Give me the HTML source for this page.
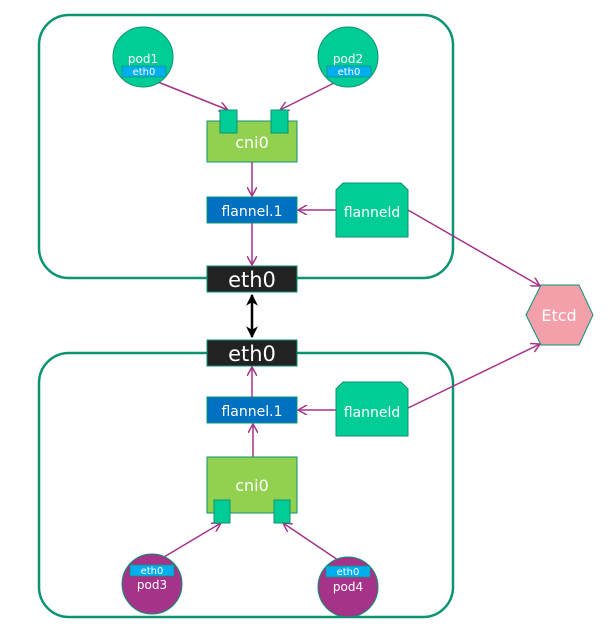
<!DOCTYPE html>
<html><head><style>body{margin:0;background:#fff}</style></head><body>
<svg width="608" height="622" viewBox="0 0 608 622" xmlns="http://www.w3.org/2000/svg" font-family="'DejaVu Sans','Liberation Sans',sans-serif">
<defs>
<marker id="a" viewBox="0 0 10 10" refX="9" refY="5" markerWidth="10" markerHeight="10" markerUnits="userSpaceOnUse" orient="auto"><path d="M0,0 L9,5 L0,10" fill="none" stroke="#a6338a" stroke-width="1.5"/></marker>
<marker id="b" viewBox="0 0 10 10" refX="9" refY="5" markerWidth="12" markerHeight="12" markerUnits="userSpaceOnUse" orient="auto-start-reverse"><path d="M0,0 L10,5 L0,10 L3,5Z" fill="#000"/></marker>
</defs>
<rect x="39" y="15" width="414" height="263" rx="30" fill="none" stroke="#0a9471" stroke-width="2.5"/>
<rect x="39" y="353" width="414" height="264" rx="30" fill="none" stroke="#0a9471" stroke-width="2.5"/>
<g stroke="#a6338a" stroke-width="1.5" fill="none" marker-end="url(#a)">
<line x1="143" y1="76" x2="228" y2="110"/>
<line x1="348" y1="76" x2="280" y2="110"/>
<line x1="252" y1="162" x2="252" y2="196"/>
<line x1="336" y1="210" x2="298" y2="210"/>
<line x1="252" y1="223" x2="252" y2="265"/>
<line x1="408" y1="210" x2="540" y2="286"/>
<line x1="252" y1="397" x2="252" y2="367"/>
<line x1="336" y1="410" x2="298" y2="410"/>
<line x1="253" y1="457" x2="253" y2="424"/>
<line x1="408" y1="408" x2="540" y2="344"/>
<line x1="164" y1="557" x2="221" y2="523"/>
<line x1="338" y1="560" x2="283" y2="523"/>
</g>
<line x1="252" y1="295" x2="252" y2="337" stroke="#000" stroke-width="2.5" marker-start="url(#b)" marker-end="url(#b)"/>
<!-- top -->
<circle cx="143" cy="57" r="30" fill="#00cc95" stroke="#0a9471"/>
<text x="143" y="63" fill="#fff" font-size="12" text-anchor="middle">pod1</text>
<rect x="122" y="66" width="44" height="11" fill="#00aeef" stroke="#0a9471" stroke-width="0.7"/>
<text x="144" y="75" fill="#fff" font-size="10" text-anchor="middle">eth0</text>
<circle cx="348" cy="57" r="30" fill="#00cc95" stroke="#0a9471"/>
<text x="348" y="63" fill="#fff" font-size="12" text-anchor="middle">pod2</text>
<rect x="327" y="66" width="44" height="11" fill="#00aeef" stroke="#0a9471" stroke-width="0.7"/>
<text x="349" y="75" fill="#fff" font-size="10" text-anchor="middle">eth0</text>
<rect x="207" y="121" width="90" height="41" fill="#92d050" stroke="#0a9471"/>
<rect x="220" y="110" width="17" height="23" fill="#00cc95" stroke="#0a9471"/>
<rect x="271" y="110" width="17" height="23" fill="#00cc95" stroke="#0a9471"/>
<text x="252" y="148" fill="#fff" font-size="16" text-anchor="middle">cni0</text>
<rect x="207" y="197" width="90" height="26" fill="#0070c0" stroke="#0a9471"/>
<text x="252" y="216" fill="#fff" font-size="14" text-anchor="middle">flannel.1</text>
<path d="M343,183 L401,183 L408,190 L408,237 L336,237 L336,190Z" fill="#00cc95" stroke="#0a9471"/>
<text x="372" y="217" fill="#fff" font-size="14" text-anchor="middle">flanneld</text>
<rect x="207" y="266" width="90" height="26" fill="#222" stroke="#0a9471"/>
<text x="252" y="287" fill="#fff" font-size="21" text-anchor="middle">eth0</text>
<!-- bottom -->
<rect x="207" y="340" width="90" height="26" fill="#222" stroke="#0a9471"/>
<text x="252" y="361" fill="#fff" font-size="21" text-anchor="middle">eth0</text>
<rect x="207" y="397" width="90" height="26" fill="#0070c0" stroke="#0a9471"/>
<text x="252" y="416" fill="#fff" font-size="14" text-anchor="middle">flannel.1</text>
<path d="M343,382 L401,382 L408,389 L408,436 L336,436 L336,389Z" fill="#00cc95" stroke="#0a9471"/>
<text x="372" y="417" fill="#fff" font-size="14" text-anchor="middle">flanneld</text>
<rect x="207" y="457" width="90" height="56" fill="#92d050" stroke="#0a9471"/>
<text x="252" y="491" fill="#fff" font-size="16" text-anchor="middle">cni0</text>
<rect x="214" y="500" width="16" height="23" fill="#00cc95" stroke="#0a9471"/>
<rect x="274" y="500" width="16" height="23" fill="#00cc95" stroke="#0a9471"/>
<circle cx="152" cy="584" r="30" fill="#a6338a" stroke="#0a9471"/>
<rect x="130" y="565" width="44" height="11" fill="#00aeef" stroke="#0a9471" stroke-width="0.7"/>
<text x="152" y="574" fill="#fff" font-size="10" text-anchor="middle">eth0</text>
<text x="152" y="589" fill="#fff" font-size="12" text-anchor="middle">pod3</text>
<circle cx="348" cy="587" r="30" fill="#a6338a" stroke="#0a9471"/>
<rect x="326" y="566" width="44" height="11" fill="#00aeef" stroke="#0a9471" stroke-width="0.7"/>
<text x="348" y="575" fill="#fff" font-size="10" text-anchor="middle">eth0</text>
<text x="348" y="591" fill="#fff" font-size="12" text-anchor="middle">pod4</text>
<!-- etcd -->
<polygon points="526,315 541,285 579,285 593,315 579,345 541,345" fill="#f4a0ab" stroke="#0a9471"/>
<text x="559" y="321" fill="#fff" font-size="16" text-anchor="middle">Etcd</text>
</svg>
</body></html>
